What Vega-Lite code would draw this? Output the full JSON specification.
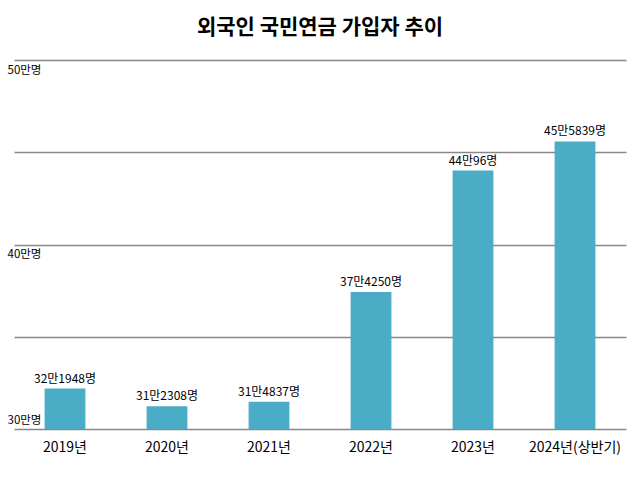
{
  "$schema": "https://vega.github.io/schema/vega-lite/v6.json",
  "autosize": {"type": "none"},
  "padding": {"left": 14, "top": 60, "right": 15, "bottom": 52},
  "width": 612,
  "height": 369,
  "background": "white",
  "title": {
    "text": "외국인 국민연금 가입자 추이",
    "font": "Noto Sans CJK KR",
    "fontSize": 21,
    "fontWeight": "bold",
    "color": "black",
    "offset": 22,
    "anchor": "middle"
  },
  "config": {
    "view": {"stroke": null},
    "font": "Noto Sans CJK KR"
  },
  "data": {
    "values": [
      {"year": "2019년", "members": 321948, "label": "32만1948명"},
      {"year": "2020년", "members": 312308, "label": "31만2308명"},
      {"year": "2021년", "members": 314837, "label": "31만4837명"},
      {"year": "2022년", "members": 374250, "label": "37만4250명"},
      {"year": "2023년", "members": 440096, "label": "44만96명"},
      {"year": "2024년(상반기)", "members": 455839, "label": "45만5839명"}
    ]
  },
  "encoding": {
    "x": {
      "field": "year",
      "type": "nominal",
      "sort": null,
      "scale": {"paddingInner": 0.6, "paddingOuter": 0.3},
      "axis": {
        "title": null,
        "labelAngle": 0,
        "labelFontSize": 14,
        "labelColor": "black",
        "labelPadding": 11,
        "ticks": false,
        "tickSize": 0,
        "domain": false
      }
    },
    "y": {
      "field": "members",
      "type": "quantitative",
      "scale": {"domain": [300000, 500000], "nice": false, "zero": false},
      "axis": {
        "title": null,
        "values": [300000, 350000, 400000, 450000, 500000],
        "labelExpr": "datum.value % 100000 == 0 ? (datum.value / 10000) + '만명' : ''",
        "labelAlign": "left",
        "labelBaseline": {"condition": {"test": "datum.value == 300000", "value": "bottom"}, "value": "top"},
        "labelOffset": {"condition": {"test": "datum.value == 300000", "value": -4}, "value": 4},
        "labelPadding": 7,
        "labelFontSize": 11.5,
        "labelColor": "black",
        "ticks": false,
        "tickSize": 0,
        "domain": false,
        "grid": true,
        "gridColor": "#888888",
        "gridWidth": 1.3,
        "gridOpacity": 1
      }
    }
  },
  "layer": [
    {
      "mark": {"type": "bar", "color": "#4BACC6"},
      "encoding": {"y2": {"datum": 300000}}
    },
    {
      "mark": {"type": "text", "baseline": "alphabetic", "dy": -6, "fontSize": 12, "color": "black"},
      "encoding": {"text": {"field": "label"}}
    }
  ]
}
